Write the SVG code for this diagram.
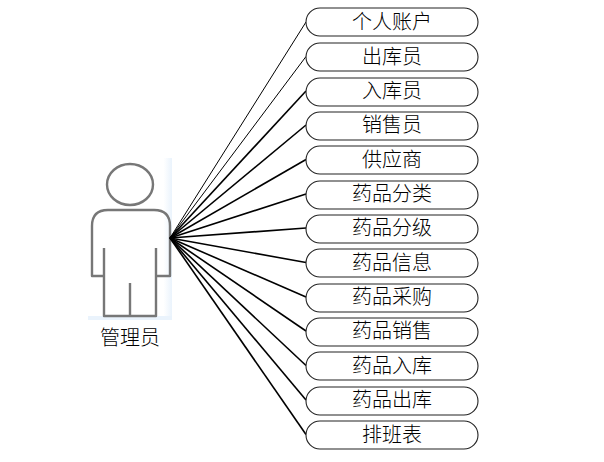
<svg xmlns="http://www.w3.org/2000/svg" width="604" height="462" viewBox="0 0 604 462">
<style>
.n{fill:#fff;stroke:#222;stroke-width:1.1}
.t{font-family:"Noto Sans CJK SC","Noto Sans CJK JP",sans-serif;font-size:20px;font-weight:300;fill:#000;text-anchor:middle}
.c line{stroke:#000;stroke-width:1.6}
.p{fill:none;stroke:#777;stroke-width:2.4;stroke-linejoin:round}
</style>
<defs><linearGradient id="g" x1="0" x2="1" y1="0" y2="0"><stop offset="0.9" stop-color="#fff"/><stop offset="1" stop-color="#eaf3fc"/></linearGradient><filter id="b" x="-5%" y="-5%" width="110%" height="110%"><feGaussianBlur stdDeviation="0.6"/></filter></defs>
<rect width="604" height="462" fill="#fff"/>
<g id="actor">
<rect x="88" y="158" width="84" height="161" fill="url(#g)"/>
<rect x="88" y="316" width="84" height="4" fill="#eaf3fc"/>
<ellipse class="p" cx="130" cy="184.500" rx="23" ry="20.500" filter="url(#b)"/>
<path class="p" filter="url(#b)" d="M104 248V276H92V226Q92 210 108 210H154Q170 210 170 226V276H156V248M104 276V316H156V276M130 283V316"/>
<text class="t" x="130" y="345">管理员</text>
</g>
<g class="c" id="connectors">
<line x1="170" y1="238" x2="306" y2="22" style="stroke-width:1"/>
<line x1="170" y1="238" x2="306" y2="56.500" style="stroke-width:1"/>
<line x1="170" y1="238" x2="306" y2="91"/>
<line x1="170" y1="238" x2="306" y2="125"/>
<line x1="170" y1="238" x2="306" y2="159.500"/>
<line x1="170" y1="238" x2="306" y2="194"/>
<line x1="170" y1="238" x2="306" y2="228"/>
<line x1="170" y1="238" x2="306" y2="262.500"/>
<line x1="170" y1="238" x2="306" y2="297"/>
<line x1="170" y1="238" x2="306" y2="331"/>
<line x1="170" y1="238" x2="306" y2="365.500"/>
<line x1="170" y1="238" x2="306" y2="400"/>
<line x1="170" y1="238" x2="306" y2="434.500"/>
</g>
<g id="n1"><rect class="n" x="306" y="8" width="172" height="28" rx="14"/><text class="t" x="392" y="29">个人账户</text></g>
<g id="n2"><rect class="n" x="306" y="43" width="172" height="28" rx="14"/><text class="t" x="392" y="63.500">出库员</text></g>
<g id="n3"><rect class="n" x="306" y="78" width="172" height="28" rx="14"/><text class="t" x="392" y="98">入库员</text></g>
<g id="n4"><rect class="n" x="306" y="112" width="172" height="28" rx="14"/><text class="t" x="392" y="132">销售员</text></g>
<g id="n5"><rect class="n" x="306" y="146" width="172" height="28" rx="14"/><text class="t" x="392" y="166.500">供应商</text></g>
<g id="n6"><rect class="n" x="306" y="181" width="172" height="28" rx="14"/><text class="t" x="392" y="201">药品分类</text></g>
<g id="n7"><rect class="n" x="306" y="215" width="172" height="28" rx="14"/><text class="t" x="392" y="235">药品分级</text></g>
<g id="n8"><rect class="n" x="306" y="249" width="172" height="28" rx="14"/><text class="t" x="392" y="269.500">药品信息</text></g>
<g id="n9"><rect class="n" x="306" y="284" width="172" height="28" rx="14"/><text class="t" x="392" y="304">药品采购</text></g>
<g id="n10"><rect class="n" x="306" y="318" width="172" height="28" rx="14"/><text class="t" x="392" y="338">药品销售</text></g>
<g id="n11"><rect class="n" x="306" y="352" width="172" height="28" rx="14"/><text class="t" x="392" y="372.500">药品入库</text></g>
<g id="n12"><rect class="n" x="306" y="387" width="172" height="28" rx="14"/><text class="t" x="392" y="407">药品出库</text></g>
<g id="n13"><rect class="n" x="306" y="421" width="172" height="28" rx="14"/><text class="t" x="392" y="441.500">排班表</text></g>
</svg>
